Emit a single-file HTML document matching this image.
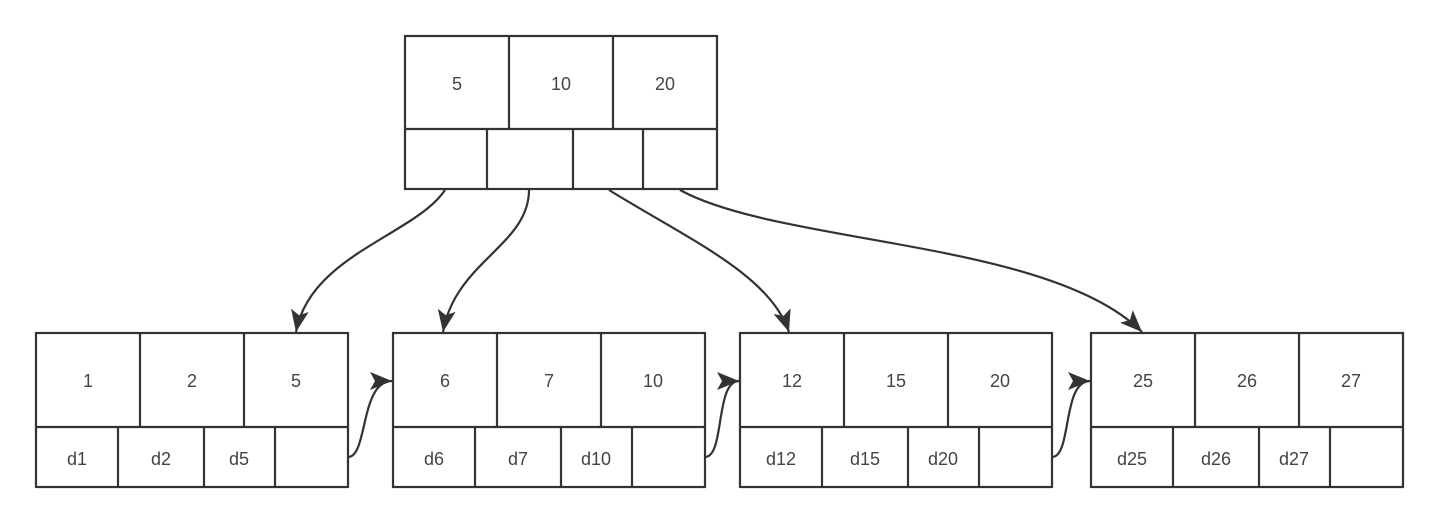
<!DOCTYPE html>
<html><head><style>body{margin:0;background:#fff}svg{display:block}text{font-family:"Liberation Sans",sans-serif;font-size:18px;fill:#444;text-anchor:middle;dominant-baseline:central}</style></head>
<body>
<svg width="1440" height="524" viewBox="0 0 1440 524" xmlns="http://www.w3.org/2000/svg">
<defs>
<marker id="a" markerUnits="userSpaceOnUse" markerWidth="24" markerHeight="18" refX="22" refY="9" orient="auto">
<path d="M0,0 L22,9 L0,18 L5,9 z" fill="#333"/>
</marker>
</defs>
<g fill="none" stroke="#333" stroke-width="2.2">
<!-- root -->
<rect x="405" y="36" width="312" height="153"/>
<line x1="405" y1="129" x2="717" y2="129"/>
<line x1="509" y1="36" x2="509" y2="129"/><line x1="613" y1="36" x2="613" y2="129"/>
<line x1="487" y1="129" x2="487" y2="189"/><line x1="573" y1="129" x2="573" y2="189"/><line x1="643" y1="129" x2="643" y2="189"/>
<!-- leaves -->
<g id="L"><rect x="36" y="333" width="312" height="154"/>
<line x1="36" y1="427" x2="348" y2="427"/>
<line x1="140" y1="333" x2="140" y2="427"/><line x1="244" y1="333" x2="244" y2="427"/>
<line x1="118" y1="427" x2="118" y2="487"/><line x1="204" y1="427" x2="204" y2="487"/><line x1="275" y1="427" x2="275" y2="487"/></g>
<use href="#L" x="357"/><use href="#L" x="704"/><use href="#L" x="1055"/>
<!-- arrows -->
<g marker-end="url(#a)">
<path d="M445,190 C415,235 310,255 296,332"/>
<path d="M529,190 C529,245 455,262 443,332"/>
<path d="M609,190 C690,240 770,275 789,332"/>
<path d="M680,190 C780,245 1050,240 1142,332"/>
<path d="M348,457 C368,457 360,381 392,381"/>
<path d="M705,457 C725,457 715,381 739,381"/>
<path d="M1052,457 C1072,457 1062,381 1090,381"/>
</g>
</g>
<text x="457" y="84">5</text><text x="561" y="84">10</text><text x="665" y="84">20</text>
<text x="88" y="381">1</text><text x="192" y="381">2</text><text x="296" y="381">5</text>
<text x="77" y="459">d1</text><text x="161" y="459">d2</text><text x="239" y="459">d5</text>
<text x="445" y="381">6</text><text x="549" y="381">7</text><text x="653" y="381">10</text>
<text x="434" y="459">d6</text><text x="518" y="459">d7</text><text x="596" y="459">d10</text>
<text x="792" y="381">12</text><text x="896" y="381">15</text><text x="1000" y="381">20</text>
<text x="781" y="459">d12</text><text x="865" y="459">d15</text><text x="943" y="459">d20</text>
<text x="1143" y="381">25</text><text x="1247" y="381">26</text><text x="1351" y="381">27</text>
<text x="1132" y="459">d25</text><text x="1216" y="459">d26</text><text x="1294" y="459">d27</text>
</svg>
</body></html>
